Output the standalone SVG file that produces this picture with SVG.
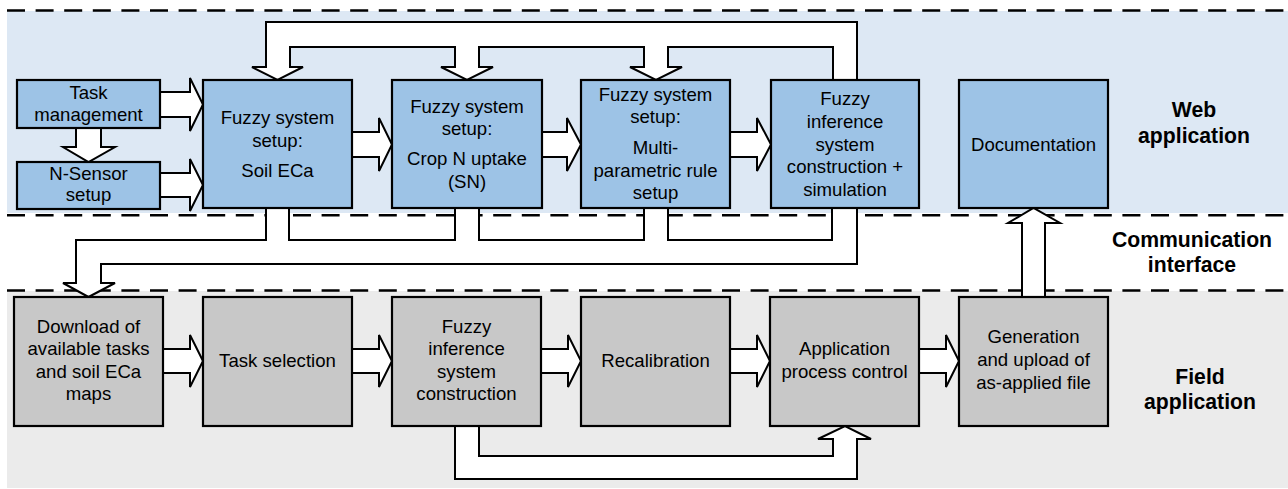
<svg xmlns="http://www.w3.org/2000/svg" width="1288" height="489" viewBox="0 0 1288 489">
<style>
.band-web{fill:#dde8f4}
.band-field{fill:#ebebeb}
.dash{stroke:#000;stroke-width:2.6;stroke-dasharray:18 10.6;fill:none}
.arrow{fill:#fff;stroke:#000;stroke-width:2;stroke-linejoin:miter}
.nb{fill:#9dc3e6;stroke:#000;stroke-width:2.2}
.ng{fill:#c8c8c8;stroke:#000;stroke-width:2.2}
text{font-family:"Liberation Sans",Arial,sans-serif;font-size:18.6px;fill:#000;text-anchor:middle}
.lbl{font-weight:bold;font-size:21.2px}
</style>
<g id="background">
<rect class="band-web" x="7" y="11" width="1281" height="202"/>
<rect class="band-field" x="7" y="291" width="1281" height="197"/>
<line class="dash" x1="7" y1="10.5" x2="1288" y2="10.5"/>
<line class="dash" x1="7" y1="215.3" x2="1288" y2="215.3"/>
<line class="dash" x1="7" y1="290.5" x2="1288" y2="290.5"/>
</g>
<g id="connectors">
<polygon class="arrow" points="160,92 190,92 190,78 203,104.5 190,131 190,117 160,117"/>
<polygon class="arrow" points="160,173 190,173 190,159 203,185 190,211 190,197 160,197"/>
<polygon class="arrow" points="76,128 76,147 63,147 88.5,162 115,147 101,147 101,128"/>
<polygon class="arrow" points="352,132 379,132 379,118 392,144.5 379,171 379,157 352,157"/>
<polygon class="arrow" points="542,132 567,132 567,118 581,144.5 567,171 567,157 542,157"/>
<polygon class="arrow" points="730,132 757,132 757,118 771,144.5 757,171 757,157 730,157"/>
<polygon class="arrow" points="833,80 833,47 668,47 668,67 682,67 656,80 630,67 644,67 644,47 479,47 479,67 493,67 467,80 441,67 455,67 455,47 290,47 290,67 303,67 277.5,80 252,67 266,67 266,22 857,22 857,80"/>
<polygon class="arrow" points="266,208 266,240 76,240 76,283 63,283 88.5,297 115,283 101,283 101,264 857,264 857,208 832,208 832,240 668,240 668,208 644,208 644,240 479,240 479,208 455,208 455,240 289,240 289,208"/>
<polygon class="arrow" points="163,349 190,349 190,335 203,361 190,387 190,373 163,373"/>
<polygon class="arrow" points="352,349 379,349 379,335 392,361 379,387 379,373 352,373"/>
<polygon class="arrow" points="541,349 568,349 568,335 581,361 568,387 568,373 541,373"/>
<polygon class="arrow" points="730,349 757,349 757,335 770,361 757,387 757,373 730,373"/>
<polygon class="arrow" points="919,349 946,349 946,335 959,361 946,387 946,373 919,373"/>
<polygon class="arrow" points="455,426 455,479 857,479 857,439 871,439 845,426 818,439 833,439 833,456 479,456 479,426"/>
<polygon class="arrow" points="1022,297 1022,223 1008,223 1033.5,208 1060,223 1045,223 1045,297"/>
</g>
<g id="task-management">
<rect class="nb" x="17" y="80" width="143" height="48"/>
<text x="88.5" y="99">Task</text>
<text x="88.5" y="121">management</text>
</g>
<g id="n-sensor-setup">
<rect class="nb" x="17" y="162" width="143" height="47"/>
<text x="88.5" y="180">N-Sensor</text>
<text x="88.5" y="201">setup</text>
</g>
<g id="fs-soil-eca">
<rect class="nb" x="203" y="80" width="149" height="128"/>
<text x="277.5" y="124">Fuzzy system</text>
<text x="277.5" y="147">setup:</text>
<text x="277.5" y="177">Soil ECa</text>
</g>
<g id="fs-crop-n">
<rect class="nb" x="392" y="80" width="150" height="128"/>
<text x="467" y="113">Fuzzy system</text>
<text x="467" y="135">setup:</text>
<text x="467" y="165">Crop N uptake</text>
<text x="467" y="188">(SN)</text>
</g>
<g id="fs-multi">
<rect class="nb" x="581" y="80" width="149" height="128"/>
<text x="655.5" y="101">Fuzzy system</text>
<text x="655.5" y="123">setup:</text>
<text x="655.5" y="154">Multi-</text>
<text x="655.5" y="177">parametric rule</text>
<text x="655.5" y="199">setup</text>
</g>
<g id="fis-sim">
<rect class="nb" x="771" y="80" width="148" height="128"/>
<text x="845" y="105">Fuzzy</text>
<text x="845" y="128">inference</text>
<text x="845" y="151">system</text>
<text x="845" y="173">construction +</text>
<text x="845" y="196">simulation</text>
</g>
<g id="documentation">
<rect class="nb" x="959" y="80" width="149" height="128"/>
<text x="1033.5" y="151">Documentation</text>
</g>
<g id="download">
<rect class="ng" x="14" y="297" width="149" height="129"/>
<text x="88.5" y="333">Download of</text>
<text x="88.5" y="355">available tasks</text>
<text x="88.5" y="378">and soil ECa</text>
<text x="88.5" y="400">maps</text>
</g>
<g id="task-selection">
<rect class="ng" x="203" y="297" width="149" height="129"/>
<text x="277.5" y="367">Task selection</text>
</g>
<g id="fis-construction">
<rect class="ng" x="392" y="297" width="149" height="129"/>
<text x="466.5" y="333">Fuzzy</text>
<text x="466.5" y="355">inference</text>
<text x="466.5" y="378">system</text>
<text x="466.5" y="400">construction</text>
</g>
<g id="recalibration">
<rect class="ng" x="581" y="297" width="149" height="129"/>
<text x="655.5" y="367">Recalibration</text>
</g>
<g id="application-control">
<rect class="ng" x="770" y="297" width="149" height="129"/>
<text x="844.5" y="355">Application</text>
<text x="844.5" y="378">process control</text>
</g>
<g id="generation-upload">
<rect class="ng" x="959" y="297" width="149" height="129"/>
<text x="1033.5" y="343">Generation</text>
<text x="1033.5" y="366">and upload of</text>
<text x="1033.5" y="389">as-applied file</text>
</g>
<g id="labels">
<text class="lbl" x="1194" y="117">Web</text>
<text class="lbl" x="1194" y="143">application</text>
<text class="lbl" x="1192" y="247">Communication</text>
<text class="lbl" x="1192" y="272">interface</text>
<text class="lbl" x="1200" y="384">Field</text>
<text class="lbl" x="1200" y="409">application</text>
</g>
</svg>
